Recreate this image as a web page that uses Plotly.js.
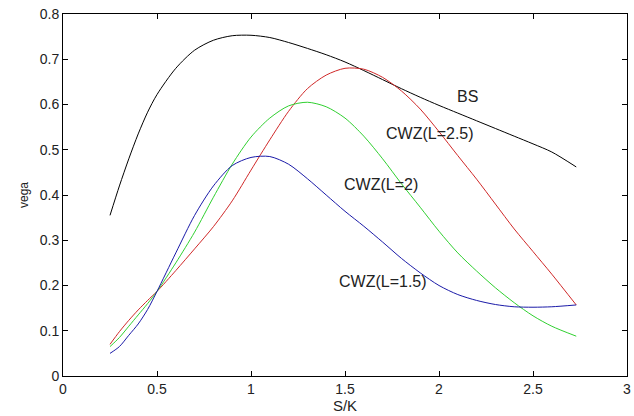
<!DOCTYPE html>
<html>
<head>
<meta charset="utf-8">
<script src="https://cdn.plot.ly/plotly-3.0.1.min.js"></script>
<style>html,body{margin:0;padding:0;background:#fff;}#chart{width:634px;height:416px;}</style>
</head>
<body>
<div id="chart"></div>
<script>
const sk = [0.25,0.3,0.35,0.4,0.45,0.5,0.6,0.7,0.8,0.9,1.0,1.1,1.2,1.3,1.4,1.5,1.6,1.7,1.8,1.9,2.0,2.1,2.2,2.3,2.4,2.5,2.6,2.73];
const vegaBS = [0.355,0.42,0.48,0.535,0.583,0.622,0.68,0.72,0.742,0.752,0.753,0.748,0.737,0.724,0.71,0.694,0.675,0.655,0.635,0.616,0.598,0.581,0.564,0.547,0.53,0.513,0.495,0.462];
const vegaL25 = [0.07,0.098,0.123,0.146,0.167,0.187,0.233,0.281,0.33,0.387,0.455,0.522,0.585,0.635,0.665,0.68,0.678,0.66,0.63,0.59,0.54,0.487,0.435,0.38,0.325,0.275,0.225,0.157];
const vegaL2 = [0.065,0.085,0.11,0.135,0.16,0.187,0.25,0.318,0.395,0.468,0.528,0.57,0.597,0.605,0.595,0.57,0.53,0.48,0.425,0.373,0.32,0.272,0.232,0.195,0.162,0.133,0.11,0.088];
const vegaL15 = [0.05,0.065,0.09,0.115,0.147,0.187,0.272,0.355,0.42,0.465,0.483,0.485,0.468,0.436,0.4,0.364,0.331,0.296,0.26,0.228,0.2,0.18,0.167,0.158,0.153,0.152,0.153,0.157];
const labels = ["BS","CWZ(L=2.5)","CWZ(L=2)","CWZ(L=1.5)"];
const labelX = [2.15,1.95,1.69,1.70];
const labelY = [0.617,0.535,0.424,0.208];
const xTicks = [0,0.5,1,1.5,2,2.5,3];
const xTickText = ["0","0.5","1","1.5","2","2.5","3"];
const yTicks = [0,0.1,0.2,0.3,0.4,0.5,0.6,0.7,0.8];
const yTickText = ["0","0.1","0.2","0.3","0.4","0.5","0.6","0.7","0.8"];

const fam = "Liberation Sans, Arial, sans-serif";
const tickFont = {family: fam, size: 14, color: "#222"};
function tr(y, c){ return {x: sk, y: y, type: "scatter", mode: "lines", line: {color: c, width: 1, shape: "spline", smoothing: 0.8}, hoverinfo: "skip"}; }
const data = [tr(vegaBS,"#000000"), tr(vegaL25,"#d02828"), tr(vegaL2,"#30d030"), tr(vegaL15,"#1a1aa8")];
const annotations = labels.map((t,i)=>({x: labelX[i], y: labelY[i], xref: "x", yref: "y", text: t, showarrow: false, font: {family: fam, size: 16, color: "#222"}}));
const ax = {showgrid: false, zeroline: false, showline: true, linecolor: "#000", linewidth: 1, mirror: "ticks", ticks: "inside", ticklen: 5, tickcolor: "#000", tickfont: tickFont, tickmode: "array"};
const layout = {
  width: 634, height: 416,
  margin: {l: 63, r: 7, t: 14, b: 40},
  paper_bgcolor: "#fff", plot_bgcolor: "#fff",
  showlegend: false,
  xaxis: Object.assign({}, ax, {range: [0,3], tickvals: xTicks, ticktext: xTickText, title: {text: "S/K", font: {family: fam, size: 15, color: "#222"}, standoff: 0}}),
  yaxis: Object.assign({}, ax, {range: [0,0.8], tickvals: yTicks, ticktext: yTickText, title: {text: "vega", font: {family: fam, size: 12, color: "#222"}, standoff: 8}}),
  annotations: annotations
};
Plotly.newPlot("chart", data, layout, {displayModeBar: false, staticPlot: true});
</script>
</body>
</html>
